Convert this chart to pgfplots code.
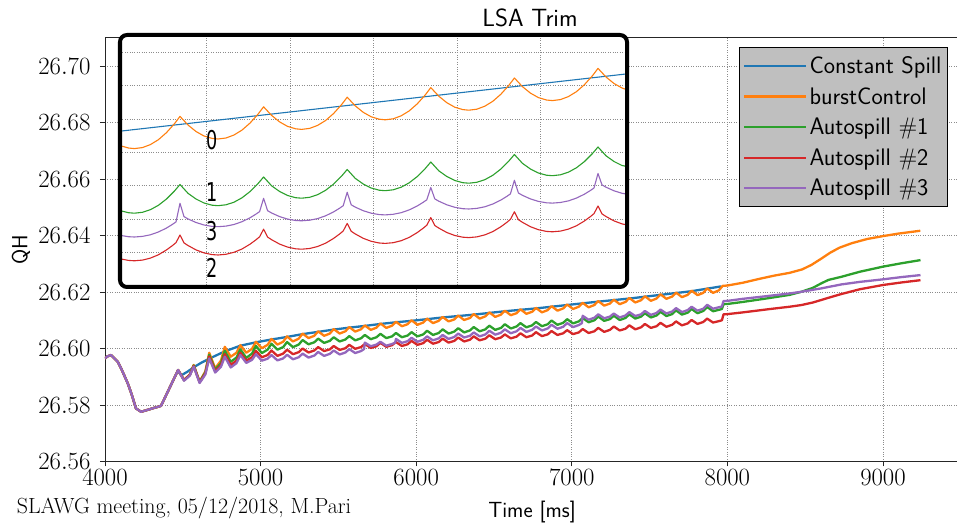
\documentclass[border=0pt]{standalone}
\usepackage{pgfplots}
\pgfplotsset{compat=1.18}
\usepackage{fontspec}
\newfontfamily\dejavu{DejaVu Sans}
\definecolor{tabblue}{HTML}{1F77B4}
\definecolor{taborange}{HTML}{FF7F0E}
\definecolor{tabgreen}{HTML}{2CA02C}
\definecolor{tabred}{HTML}{D62728}
\definecolor{tabpurple}{HTML}{9467BD}
\definecolor{leggray}{HTML}{BFBFBF}

\pgfplotstableread{
x y
4472 26.5918
4490 26.5905
4530 26.5918
4574 26.5935
4620 26.5950
4670 26.5964
4770 26.5990
4870 26.6010
4970 26.6022
5070 26.6032
5170 26.6041
5270 26.6051
5370 26.6059
5470 26.6067
5570 26.6074
5670 26.6080
5770 26.6087
5870 26.6093
5970 26.6098
6170 26.6110
6370 26.6120
6570 26.6132
6770 26.6142
6970 26.6154
7170 26.6166
7370 26.6177
7570 26.6190
7770 26.6203
7960 26.6220
}\blueT

\pgfplotstableread{
x y
4000 26.5965
4015 26.5972
4039 26.5977
4082 26.5953
4110 26.5922
4146 26.5877
4170 26.5840
4199 26.5788
4232 26.5776
4360 26.5797
4470 26.5924
4508 26.5889
4545 26.5908
4570 26.5942
4608 26.5883
4645 26.5919
4670 26.5985
4708 26.5930
4745 26.5957
4770 26.6006
4808 26.5971
4845 26.5985
4870 26.6012
4908 26.5985
4945 26.5999
4970 26.6024
5008 26.6001
5045 26.6013
5070 26.6034
5108 26.6014
5145 26.6024
5170 26.6043
5208 26.6025
5245 26.6035
5270 26.6053
5308 26.6037
5345 26.6045
5370 26.6061
5408 26.6045
5445 26.6053
5470 26.6069
5508 26.6053
5545 26.6061
5570 26.6076
5608 26.6060
5645 26.6068
5670 26.6082
5708 26.6066
5745 26.6074
5770 26.6089
5808 26.6073
5845 26.6081
5870 26.6095
5908 26.6079
5945 26.6086
5970 26.6100
6008 26.6084
6045 26.6092
6070 26.6106
6108 26.6090
6145 26.6098
6170 26.6112
6208 26.6096
6245 26.6103
6270 26.6117
6308 26.6101
6345 26.6108
6370 26.6122
6408 26.6106
6445 26.6114
6470 26.6128
6508 26.6112
6545 26.6120
6570 26.6134
6608 26.6118
6645 26.6125
6670 26.6139
6708 26.6123
6745 26.6130
6770 26.6144
6808 26.6128
6845 26.6136
6870 26.6150
6908 26.6134
6945 26.6142
6970 26.6156
7008 26.6140
7045 26.6148
7070 26.6162
7108 26.6146
7145 26.6154
7170 26.6168
7208 26.6152
7245 26.6159
7270 26.6173
7308 26.6157
7345 26.6165
7370 26.6179
7408 26.6163
7445 26.6171
7470 26.6185
7508 26.6169
7545 26.6177
7570 26.6192
7608 26.6176
7645 26.6184
7670 26.6198
7708 26.6182
7745 26.6190
7770 26.6205
7808 26.6189
7845 26.6197
7870 26.6213
7908 26.6197
7945 26.6206
7970 26.6222
8000 26.6223
8100 26.6233
8200 26.6246
8300 26.6258
8400 26.6268
8480 26.6280
8540 26.6296
8600 26.6317
8660 26.6339
8720 26.6357
8800 26.6373
8900 26.6388
9000 26.6398
9100 26.6407
9240 26.6417
}\orangeT

\pgfplotstableread{
x y
4000 26.5965
4015 26.5972
4039 26.5977
4082 26.5953
4110 26.5922
4146 26.5877
4170 26.5840
4199 26.5788
4232 26.5776
4360 26.5797
4470 26.5924
4508 26.5888
4545 26.5906
4570 26.5940
4608 26.5882
4645 26.5916
4670 26.5978
4708 26.5925
4745 26.5948
4770 26.5992
4808 26.5953
4845 26.5968
4870 26.5997
4908 26.5967
4945 26.5982
4970 26.6009
5008 26.5984
5045 26.5996
5070 26.6017
5108 26.5996
5145 26.6005
5170 26.6023
5208 26.6005
5245 26.6014
5270 26.6030
5308 26.6015
5345 26.6022
5370 26.6035
5408 26.6020
5445 26.6027
5470 26.6040
5508 26.6025
5545 26.6032
5570 26.6044
5608 26.6029
5645 26.6036
5670 26.6048
5708 26.6033
5745 26.6040
5770 26.6052
5808 26.6037
5845 26.6043
5870 26.6055
5908 26.6040
5945 26.6046
5970 26.6058
6008 26.6043
6045 26.6050
6070 26.6063
6108 26.6048
6145 26.6055
6170 26.6068
6208 26.6053
6245 26.6060
6270 26.6072
6308 26.6057
6345 26.6064
6370 26.6076
6408 26.6061
6445 26.6068
6470 26.6081
6508 26.6066
6545 26.6073
6570 26.6086
6608 26.6071
6645 26.6078
6670 26.6090
6708 26.6075
6745 26.6082
6770 26.6094
6808 26.6079
6845 26.6086
6870 26.6099
6908 26.6084
6945 26.6091
6970 26.6104
7008 26.6089
7045 26.6096
7070 26.6108
7108 26.6093
7145 26.6100
7170 26.6113
7208 26.6098
7245 26.6104
7270 26.6116
7308 26.6101
7345 26.6108
7370 26.6121
7408 26.6106
7445 26.6113
7470 26.6125
7508 26.6110
7545 26.6117
7570 26.6130
7608 26.6115
7645 26.6122
7670 26.6135
7708 26.6120
7745 26.6127
7770 26.6140
7808 26.6125
7845 26.6133
7870 26.6147
7908 26.6132
7945 26.6137
7965 26.6140
7975 26.6157
8004 26.6158
8100 26.6165
8261 26.6178
8400 26.6190
8476 26.6201
8550 26.6215
8604 26.6231
8650 26.6243
8733 26.6254
8852 26.6272
9001 26.6290
9120 26.6302
9241 26.6313
}\greenT

\pgfplotstableread{
x y
4000 26.5965
4015 26.5972
4039 26.5977
4082 26.5953
4110 26.5922
4146 26.5877
4170 26.5840
4199 26.5788
4232 26.5776
4360 26.5797
4470 26.5924
4508 26.5888
4545 26.5906
4570 26.5938
4608 26.5880
4645 26.5912
4670 26.5972
4708 26.5920
4745 26.5941
4770 26.5980
4808 26.5942
4845 26.5957
4870 26.5985
4908 26.5957
4945 26.5969
4970 26.5992
5008 26.5969
5045 26.5977
5070 26.5993
5108 26.5974
5145 26.5982
5170 26.5996
5208 26.5980
5245 26.5987
5270 26.6000
5308 26.5986
5345 26.5993
5370 26.6005
5408 26.5991
5445 26.5997
5470 26.6009
5508 26.5995
5545 26.6001
5570 26.6013
5608 26.5999
5645 26.6005
5670 26.6016
5708 26.6002
5745 26.6008
5770 26.6020
5808 26.6006
5845 26.6012
5870 26.6023
5908 26.6009
5945 26.6015
5970 26.6027
6008 26.6013
6045 26.6019
6070 26.6031
6108 26.6017
6145 26.6023
6170 26.6035
6208 26.6021
6245 26.6027
6270 26.6039
6308 26.6025
6345 26.6031
6370 26.6043
6408 26.6029
6445 26.6035
6470 26.6047
6508 26.6033
6545 26.6039
6570 26.6050
6608 26.6036
6645 26.6042
6670 26.6054
6708 26.6040
6745 26.6046
6770 26.6058
6808 26.6044
6845 26.6050
6870 26.6062
6908 26.6048
6945 26.6054
6970 26.6065
7008 26.6051
7045 26.6057
7070 26.6069
7108 26.6055
7145 26.6061
7170 26.6073
7208 26.6059
7245 26.6066
7270 26.6078
7308 26.6064
7345 26.6070
7370 26.6082
7408 26.6068
7445 26.6075
7470 26.6087
7508 26.6073
7545 26.6079
7570 26.6091
7608 26.6077
7645 26.6084
7670 26.6096
7708 26.6082
7745 26.6089
7770 26.6101
7808 26.6087
7845 26.6094
7870 26.6106
7908 26.6092
7945 26.6097
7965 26.6100
7975 26.6121
8004 26.6122
8100 26.6128
8261 26.6139
8400 26.6148
8476 26.6154
8550 26.6163
8604 26.6172
8670 26.6183
8733 26.6193
8852 26.6210
9001 26.6225
9120 26.6234
9241 26.6242
}\redT

\pgfplotstableread{
x y
4000 26.5965
4015 26.5972
4039 26.5977
4082 26.5953
4110 26.5922
4146 26.5877
4170 26.5840
4199 26.5788
4232 26.5776
4360 26.5797
4470 26.5924
4508 26.5886
4545 26.5904
4570 26.5936
4608 26.5878
4645 26.5908
4670 26.5965
4708 26.5915
4745 26.5935
4770 26.5971
4808 26.5933
4845 26.5948
4870 26.5977
4908 26.5949
4945 26.5960
4970 26.5980
5008 26.5957
5045 26.5964
5070 26.5977
5108 26.5958
5145 26.5965
5170 26.5978
5208 26.5962
5245 26.5969
5270 26.5982
5308 26.5968
5345 26.5975
5370 26.5988
5408 26.5974
5445 26.5981
5470 26.5993
5508 26.5979
5545 26.5986
5570 26.5998
5608 26.5984
5645 26.5991
5665 26.5998
5670 26.6021
5708 26.6008
5745 26.6014
5770 26.6024
5808 26.6010
5845 26.6016
5865 26.6021
5870 26.6034
5908 26.6020
5945 26.6026
5970 26.6038
6008 26.6024
6045 26.6031
6070 26.6043
6108 26.6029
6145 26.6036
6170 26.6048
6208 26.6034
6245 26.6041
6270 26.6053
6308 26.6039
6345 26.6045
6370 26.6057
6408 26.6043
6445 26.6050
6470 26.6063
6508 26.6049
6545 26.6056
6570 26.6068
6608 26.6054
6645 26.6061
6670 26.6073
6708 26.6059
6745 26.6066
6770 26.6078
6808 26.6064
6845 26.6071
6870 26.6084
6908 26.6070
6945 26.6077
6970 26.6090
7008 26.6076
7045 26.6083
7065 26.6090
7070 26.6116
7108 26.6102
7145 26.6109
7170 26.6121
7208 26.6107
7245 26.6113
7270 26.6124
7308 26.6110
7345 26.6117
7370 26.6129
7408 26.6115
7445 26.6121
7470 26.6133
7508 26.6119
7545 26.6126
7570 26.6138
7608 26.6124
7645 26.6131
7670 26.6143
7708 26.6129
7745 26.6136
7770 26.6148
7808 26.6134
7845 26.6141
7870 26.6155
7908 26.6141
7945 26.6146
7965 26.6149
7975 26.6168
8004 26.6169
8100 26.6176
8261 26.6186
8400 26.6195
8476 26.6201
8604 26.6213
8733 26.6227
8852 26.6236
9001 26.6245
9120 26.6253
9241 26.6260
}\purpleT

% inset (zoomed view, inset pixel units)
\pgfplotstableread{
x y
1.7 156.0
505 212.9
}\iblueT

\pgfplotstableread{
x y
1.7 140.9
8.4 139.0
14.4 138.4
22.4 139.4
30.4 142.4
38.4 147.3
46.4 154.3
54.4 163.2
60 170.6
68 162.0
76 155.5
84 151.0
92 148.6
98 148.0
106 149.0
114 152.0
122 156.9
130 163.9
138 172.8
143.6 180.2
151.6 171.6
159.6 165.1
167.6 160.6
175.6 158.2
181.6 157.6
189.6 158.6
197.6 161.6
205.6 166.5
213.6 173.5
221.6 182.4
227.2 189.8
235.2 181.2
243.2 174.7
251.2 170.2
259.2 167.8
265.2 167.2
273.2 168.2
281.2 171.2
289.2 176.1
297.2 183.1
305.2 192.0
310.8 199.4
318.8 190.8
326.8 184.3
334.8 179.8
342.8 177.4
348.8 176.8
356.8 177.8
364.8 180.8
372.8 185.7
380.8 192.7
388.8 201.6
394.4 209.0
402.4 200.4
410.4 193.9
418.4 189.4
426.4 187.0
432.4 186.4
440.4 187.4
448.4 190.4
456.4 195.3
464.4 202.3
472.4 211.2
478.0 218.6
486 210.0
494 203.5
502 199.0
505 197.9
}\iorangeT

\pgfplotstableread{
x y
1.7 76.0
8.4 74.3
14.4 73.8
22.4 74.7
30.4 77.3
38.4 81.7
46.4 87.9
54.4 95.9
60 102.5
68 93.7
76 88.0
84 84.0
92 81.8
98 81.3
106 82.2
114 84.8
122 89.2
130 95.4
138 103.4
143.6 110.0
151.6 101.2
159.6 95.5
167.6 91.5
175.6 89.3
181.6 88.8
189.6 89.7
197.6 92.3
205.6 96.7
213.6 102.9
221.6 110.9
227.2 117.5
235.2 108.7
243.2 103.0
251.2 99.0
259.2 96.8
265.2 96.3
273.2 97.2
281.2 99.8
289.2 104.2
297.2 110.4
305.2 118.4
310.8 125.0
318.8 116.2
326.8 110.5
334.8 106.5
342.8 104.3
348.8 103.8
356.8 104.7
364.8 107.3
372.8 111.7
380.8 117.9
388.8 125.9
394.4 132.5
402.4 123.7
410.4 118.0
418.4 114.0
426.4 111.8
432.4 111.3
440.4 112.2
448.4 114.8
456.4 119.2
464.4 125.4
472.4 133.4
478 140.0
486 131.2
494 125.5
502 121.5
505 120.9
}\igreenT

\pgfplotstableread{
x y
1.7 27.9
8.4 26.6
14.4 26.2
22.4 26.9
30.4 28.9
38.4 32.2
46.4 37.0
52.4 41.4
56 44.4
60 52.0
64 44.1
68 41.5
76 37.1
84 34.1
92 32.4
98 32.0
106 32.7
114 34.7
122 38.0
130 42.8
136 47.2
139.6 50.2
143.6 57.8
147.6 49.9
151.6 47.3
159.6 42.9
167.6 39.9
175.6 38.2
181.6 37.8
189.6 38.5
197.6 40.5
205.6 43.8
213.6 48.6
219.6 53.0
223.2 56.0
227.2 63.6
231.2 55.7
235.2 53.1
243.2 48.7
251.2 45.7
259.2 44.0
265.2 43.6
273.2 44.3
281.2 46.3
289.2 49.6
297.2 54.4
303.2 58.8
306.8 61.8
310.8 69.4
314.8 61.5
318.8 58.9
326.8 54.5
334.8 51.5
342.8 49.8
348.8 49.4
356.8 50.1
364.8 52.1
372.8 55.4
380.8 60.2
386.8 64.6
390.4 67.6
394.4 75.2
398.4 67.3
402.4 64.7
410.4 60.3
418.4 57.3
426.4 55.6
432.4 55.2
440.4 55.9
448.4 57.9
456.4 61.2
464.4 66.0
470.4 70.4
474 73.4
478 81.0
482 73.1
486 70.5
494 66.1
502 63.1
505 62.5
}\iredT

\pgfplotstableread{
x y
1.7 51.4
8.4 50.3
14.4 50.0
22.4 50.6
30.4 52.2
38.4 55.0
46.4 58.9
52.4 62.6
56 65.1
60 83.7
64 70.4
68 68.1
76 64.5
84 62.0
92 60.6
98 60.3
106 60.9
114 62.5
122 65.3
130 69.2
136 72.9
139.6 75.4
143.6 88.7
147.6 76.3
151.6 74.0
159.6 70.4
167.6 67.9
175.6 66.5
181.6 66.2
189.6 66.8
197.6 68.4
205.6 71.2
213.6 75.1
219.6 78.8
223.2 81.3
227.2 94.7
231.2 82.2
235.2 79.9
243.2 76.3
251.2 73.8
259.2 72.4
265.2 72.1
273.2 72.7
281.2 74.3
289.2 77.1
297.2 81.0
303.2 84.7
306.8 87.2
310.8 99.5
314.8 88.1
318.8 85.8
326.8 82.2
334.8 79.7
342.8 78.3
348.8 78.0
356.8 78.6
364.8 80.2
372.8 83.0
380.8 86.9
386.8 90.6
390.4 93.1
394.4 106.7
398.4 94.0
402.4 91.7
410.4 88.1
418.4 85.6
426.4 84.2
432.4 83.9
440.4 84.5
448.4 86.1
456.4 88.9
464.4 92.8
470.4 96.5
474 99.0
478 113.5
482 102.1
486 99.8
494 96.2
502 93.7
505 93.2
}\ipurpleT

\begin{document}
\begin{tikzpicture}
\useasboundingbox (-105bp,-62.5bp) rectangle (852bp,461.5bp);
\begin{axis}[
  at={(0bp,0bp)}, anchor=south west,
  scale only axis, width=855bp, height=424.5bp,
  xmin=4000, xmax=9495, ymin=26.56, ymax=26.7103,
  xtick={4000,5000,6000,7000,8000,9000},
  ytick={26.56,26.58,26.60,26.62,26.64,26.66,26.68,26.70},
  scaled ticks=false,
  xticklabel style={/pgf/number format/1000 sep={}},
  yticklabel style={/pgf/number format/fixed, /pgf/number format/fixed zerofill, /pgf/number format/precision=2, xshift=-6bp},
  tick label style={font=\fontsize{24}{28}\selectfont},
  tick align=outside, xtick pos=bottom, ytick pos=left,
  major tick length=5bp,
  tick style={black!85, line width=0.8bp},
  axis line style={black!85, line width=0.8bp},
  grid=major,
  grid style={dotted, black!45, line width=0.8bp},
  legend style={at={(0.986,0.9764)}, anchor=north east, fill=leggray, draw=black, line width=1bp,
    font=\fontsize{24}{26}\selectfont\sffamily, row sep=8.5bp, inner xsep=4bp, inner ysep=7bp,
    cells={anchor=west}},
  legend image code/.code={\draw[#1, line width=2bp] (0bp,0bp) -- (48bp,0bp); \path (-2bp,0bp) -- (60bp,0bp);},
  every axis plot/.append style={line width=2.3bp, line join=round},
]
\addplot[tabblue] table {\blueT};
\addlegendentry{Constant Spill}
\addplot[taborange] table {\orangeT};
\addlegendentry{burstControl}
\addplot[tabgreen] table {\greenT};
\addlegendentry{Autospill \#1}
\addplot[tabred] table {\redT};
\addlegendentry{Autospill \#2}
\addplot[tabpurple] table {\purpleT};
\addlegendentry{Autospill \#3}
\end{axis}

\begin{axis}[
  at={(15bp,174.5bp)}, anchor=south west,
  scale only axis, width=507bp, height=252bp,
  xmin=0, xmax=507, ymin=0, ymax=252,
  xtick={86,170,253,337,420}, ytick={34.7,68,101.3,134.7,168,201.3,234.7},
  xticklabels={}, yticklabels={}, major tick length=0pt,
  grid=major, grid style={dotted, black!45, line width=0.8bp},
  axis line style={draw=none},
  axis background/.style={fill=white, rounded corners=7bp},
  clip=false,
  every axis plot/.append style={line width=1.1bp, line join=round},
]
\addplot[tabblue] table {\iblueT};
\addplot[taborange] table {\iorangeT};
\addplot[tabgreen] table {\igreenT};
\addplot[tabred] table {\iredT};
\addplot[tabpurple] table {\ipurpleT};
\draw[black, line width=4bp, rounded corners=7bp] (rel axis cs:0,0) rectangle (rel axis cs:1,1);
\node[font=\fontsize{26}{26}\selectfont\dejavu] at (axis cs:91.7,147) {\scalebox{0.68}[1]{0}};
\node[font=\fontsize{26}{26}\selectfont\dejavu] at (axis cs:91.7,94.7) {\scalebox{0.68}[1]{1}};
\node[font=\fontsize{26}{26}\selectfont\dejavu] at (axis cs:91.7,56.3) {\scalebox{0.68}[1]{3}};
\node[font=\fontsize{26}{26}\selectfont\dejavu] at (axis cs:91.7,18.7) {\scalebox{0.68}[1]{2}};
\end{axis}

\node[anchor=base, font=\fontsize{25}{28}\selectfont\sffamily] at (425bp,434.8bp) {LSA Trim};
\node[anchor=base, font=\fontsize{22}{26}\selectfont\sffamily] at (427bp,-55.5bp) {Time [ms]};
\node[anchor=base west, inner sep=0pt, font=\fontsize{22}{26}\selectfont\rmfamily] at (-88.3bp,-52bp) {SLAWG meeting, 05/12/2018, M.Pari};
\node[rotate=90, font=\fontsize{22}{26}\selectfont\sffamily] at (-84bp,212bp) {QH};
\end{tikzpicture}
\end{document}
